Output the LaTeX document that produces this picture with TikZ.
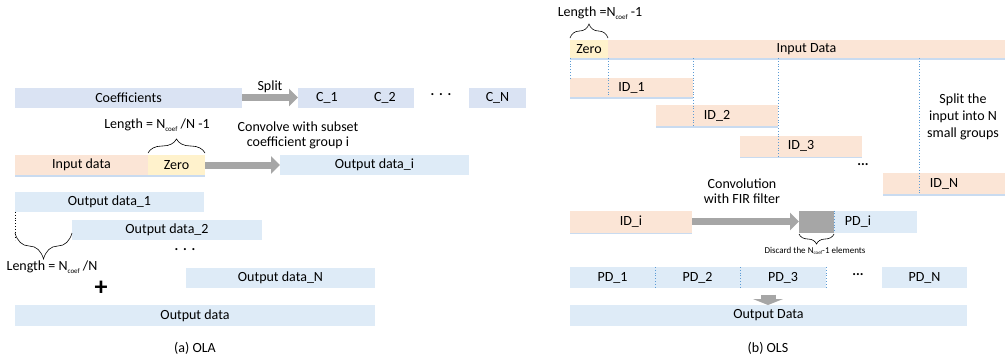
\documentclass[tikz,border=0pt]{standalone}
\usepackage{fontspec}
\setmainfont{Carlito}
\usetikzlibrary{arrows.meta,decorations.pathreplacing,shadows}
\definecolor{lblue}{HTML}{DEEBF7}
\definecolor{lav}{HTML}{DAE3F3}
\definecolor{lorange}{HTML}{FBE5D6}
\definecolor{lyellow}{HTML}{FFF2CC}
\definecolor{agray}{HTML}{A6A6A6}
\definecolor{dblue}{HTML}{5B9BD5}
\definecolor{shblue}{HTML}{C9DBF0}
\newcommand\csub[1]{\raisebox{-0.35ex}{\fontsize{7}{7}\selectfont #1}}
\begin{document}
\begin{tikzpicture}[x=1pt,y=-1pt, font=\fontsize{14}{15}\selectfont,
  bar/.style={inner sep=0pt, outer sep=0pt, minimum height=20pt},
  bb/.style={bar, fill=lblue},
  cb/.style={bar, fill=lav},
  ob/.style={bar, fill=lorange, drop shadow={shadow xshift=0pt, shadow yshift=-1.5pt, fill=shblue, opacity=1}},
  yb/.style={bar, fill=lyellow, drop shadow={shadow xshift=0pt, shadow yshift=-1.5pt, fill=shblue, opacity=1}},
  bigarrow/.style={draw=agray, line width=7pt, -{Triangle[length=9pt,width=17pt]}},
  downarrow/.style={draw=agray, line width=15pt, -{Triangle[length=6pt,width=30pt]}},
  dotline/.style={draw=dblue, dotted, line width=0.8pt},
  brace/.style={decorate, decoration={brace, amplitude=#1}, draw=black, line width=0.6pt},
  brace/.default=12pt,
  gbox/.style={fill=agray, inner sep=0pt, outer sep=0pt}]
\useasboundingbox (0,0) rectangle (1008,360);

% ---------------- (a) OLA ----------------
\node[cb, minimum width=227pt] (coef) at (128.5,97.5) {Coefficients};
\node[cb, minimum width=58pt] (c1) at (327,97.5) {C\_1};
\node[cb, minimum width=58pt] (c2) at (385,97.5) {C\_2};
\node (cdots) at (441,95) {\textbf{.\,\,.\,\,.}};
\node[cb, minimum width=57pt] (cn) at (497.5,97.5) {C\_N};
\draw[bigarrow] (coef) -- (c1);
\node (split) at (270,87) {Split};

\node (len1) at (157,125) {Length = N\csub{coef} /N -1};
\node[align=center] (conv) at (298,135.5) {Convolve with subset\\coefficient group i};
\node[ob, minimum width=133pt] (ind) at (81.5,165) {Input data};
\node[yb, minimum width=57pt] (zero) at (176.5,165) {Zero};
\node[bb, minimum width=189pt] (outi) at (374.5,165) {Output data\_i};
\draw[bigarrow] (zero) -- (outi);
\draw[brace=14pt] (148,153) -- (205,153);

\node[bb, minimum width=189pt] (o1) at (109.5,202) {Output data\_1};
\node[bb, minimum width=190pt] (o2) at (167,230) {Output data\_2};
\draw[black, dotted, line width=0.8pt] (o1.south west) -- (15,240);
\draw[brace=26pt] (72,233) -- (15,233);
\node (len2) at (52,267) {Length = N\csub{coef} /N};
\node (odots) at (185,250) {\textbf{.\,\,.\,\,.}};
\node[bb, minimum width=189pt] (on) at (280.5,278) {Output data\_N};
\node (plus) at (101,288) {\fontsize{26}{26}\selectfont\bfseries +};
\node[bb, minimum width=360pt, minimum height=21pt] (od) at (195,315.5) {Output data};
\node (ola) at (195,348) {(a) OLA};

% ---------------- (b) OLS ----------------
\node (len3) at (600,13) {Length =N\csub{coef} -1};
\node[yb, minimum width=38pt, minimum height=18pt] (zero2) at (589,49) {Zero};
\node[ob, minimum width=397pt, minimum height=18pt] (indata) at (806.5,49) {Input Data};
\draw[brace=14pt] (570,38) -- (608,38);

\node[ob, minimum width=123pt, minimum height=19pt] (id1) at (631.5,87.5) {ID\_1};
\node[ob, minimum width=122pt, minimum height=21pt] (id2) at (717,115.5) {ID\_2};
\node[ob, minimum width=122pt, minimum height=21pt] (id3) at (801,146) {ID\_3};
\node (rdots1) at (863,165) {\textbf{...}};
\node[ob, minimum width=122pt, minimum height=21pt] (idn) at (944,183.5) {ID\_N};
\node[align=center, font=\fontsize{14}{17}\selectfont] (splt) at (963,117) {Split the\\input into N\\small groups};

\draw[dotline] (zero2.south west) -- (id1.north west);
\draw[dotline] (zero2.south east) -- (zero2.south east |- id1.south);
\draw[dotline] (indata.south -| id1.east) -- (id1.east |- id2.south);
\draw[dotline] (indata.south -| id2.east) -- (id2.east |- id3.south);
\draw[dotline] (indata.south -| 919,0) -- (919,0 |- idn.south);

\node[align=center] (convfir) at (742,191.5) {Convolution\\with FIR filter};
\node[ob, minimum width=122pt, minimum height=22pt] (idi) at (631,221.5) {ID\_i};
\node[bb, minimum width=118pt, minimum height=22pt] (pdi) at (858,221.5) {PD\_i};
\node[gbox, minimum width=35pt, minimum height=22pt] (gray) at (816.5,221.5) {};
\draw[dotline] (gray.north east) -- (gray.south east);
\draw[bigarrow] (idi) -- (gray);
\draw[brace=10pt] (834,234) -- (799,234);
\node (disc) at (815,251) {\fontsize{9}{9}\selectfont Discard the N\raisebox{-0.4ex}{\fontsize{5}{5}\selectfont coef}-1 elements};

\node[bb, minimum width=85pt, minimum height=21pt] (pd1) at (612.5,277.5) {PD\_1};
\node[bb, minimum width=85pt, minimum height=21pt] (pd2) at (697.5,277.5) {PD\_2};
\node[bb, minimum width=86pt, minimum height=21pt] (pd3) at (783,277.5) {PD\_3};
\node (rdots2) at (858,275) {\textbf{...}};
\node[bb, minimum width=85pt, minimum height=21pt] (pdn) at (924.5,277.5) {PD\_N};
\draw[dotline] (pd1.north east) -- (pd1.south east);
\draw[dotline] (pd2.north east) -- (pd2.south east);
\draw[dotline] (pd3.north east) -- (pd3.south east);

\node[bb, minimum width=397pt, minimum height=21pt] (outd) at (768.5,315.5) {Output Data};
\coordinate (dstart) at (768,294.5);
\draw[downarrow] (dstart) -- (dstart |- outd.north);
\node (ols) at (768,348) {(b) OLS};
\end{tikzpicture}
\end{document}
